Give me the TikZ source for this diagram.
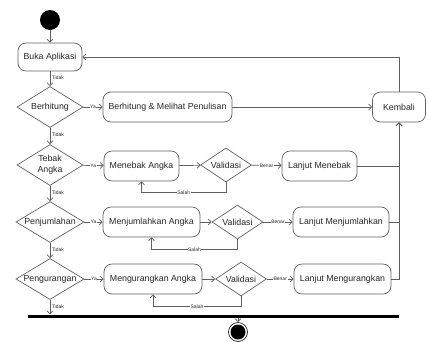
\documentclass[tikz,border=0pt]{standalone}
\usepackage{fontspec}
\setmainfont{Liberation Sans}
\usetikzlibrary{arrows.meta, shapes.geometric}

\definecolor{garis}{RGB}{95,95,95}

\begin{document}
\begin{tikzpicture}[x=1pt, y=-1pt,
    every node/.style={font=\fontsize{8.8}{11}\selectfont, text=black!85},
    aktivitas/.style={rectangle, draw=garis, line width=0.7pt, rounded corners=8pt, minimum height=30pt, inner sep=2pt},
    keputusan/.style={diamond, draw=garis, line width=0.7pt, aspect=1.6, inner sep=0pt, minimum width=66pt, minimum height=41pt},
    validasi/.style={keputusan, minimum width=51pt, minimum height=34pt},
    alur/.style={draw=garis, line width=0.7pt, -{Straight Barb[length=3pt,width=6pt]}},
    ket/.style={font=\fontsize{5}{5}\selectfont, fill=white, inner sep=0.6pt},
    tidak/.style={font=\fontsize{5}{5}\selectfont, anchor=west, inner sep=1.5pt, pos=0.45}]
    \useasboundingbox (0,0) rectangle (428,341);

    % Nodes
    \node[circle, fill=black, minimum size=20pt, inner sep=0pt] (mulai) at (50,20) {};
    \node[aktivitas, minimum width=64pt, minimum height=28pt] (buka) at (50,57) {Buka Aplikasi};
    \node[keputusan] (hitung) at (50,107) {Berhitung};
    \node[aktivitas, minimum width=129pt] (tulis) at (167.5,107) {Berhitung \& Melihat Penulisan};
    \node[aktivitas, minimum width=53pt] (kembali) at (399,107) {Kembali};

    \node[keputusan, align=center] (tebak) at (50,165) {Tebak\\Angka};
    \node[aktivitas, minimum width=75pt] (menebak) at (141.5,166) {Menebak Angka};
    \node[validasi] (valid1) at (226,165) {Validasi};
    \node[aktivitas, minimum width=75pt] (lanjut1) at (319.5,166) {Lanjut Menebak};

    \node[keputusan, minimum width=68pt] (jumlah) at (50,222) {Penjumlahan};
    \node[aktivitas, minimum width=97pt] (menjumlah) at (151.5,222) {Menjumlahkan Angka};
    \node[validasi] (valid2) at (237.5,222) {Validasi};
    \node[aktivitas, minimum width=96pt] (lanjut2) at (341,222) {Lanjut Menjumlahkan};

    \node[keputusan, minimum width=68pt] (kurang) at (50,279) {Pengurangan};
    \node[aktivitas, minimum width=98pt] (mengurang) at (153,279) {Mengurangkan Angka};
    \node[validasi] (valid3) at (241,279) {Validasi};
    \node[aktivitas, minimum width=97pt] (lanjut3) at (342.5,279) {Lanjut Mengurangkan};

    \node[rectangle, fill=black, minimum width=371pt, minimum height=3pt, inner sep=0pt] (bar) at (213.5,316) {};
    \node[circle, draw=black, line width=0.6pt, minimum size=19pt, inner sep=0pt] (selesai) at (238,332) {};
    \node[circle, fill=black, minimum size=15pt, inner sep=0pt] (selesaiisi) at (selesai.center) {};

    % Edges
    \draw[alur] (mulai) -- (buka);
    \draw[alur] (buka) -- node[tidak] {Tidak} (hitung);
    \draw[alur] (hitung) -- node[tidak] {Tidak} (tebak);
    \draw[alur] (tebak) -- node[tidak] {Tidak} (jumlah);
    \draw[alur] (jumlah) -- node[tidak] {Tidak} (kurang);
    \draw[alur] (kurang.south) -- node[tidak] {Tidak} (kurang.south |- bar.north);
    \draw[alur] (bar.south -| selesai.north) -- (selesai.north);

    \draw[alur] (hitung) -- node[ket] {Ya} (tulis);
    \draw[alur] (tebak) -- node[ket] {Ya} (menebak);
    \draw[alur] (jumlah) -- node[ket] {Ya} (menjumlah);
    \draw[alur] (kurang) -- node[ket] {Ya} (mengurang);

    \draw[alur] (menebak) -- (valid1);
    \draw[alur] (menjumlah) -- (valid2);
    \draw[alur] (mengurang) -- (valid3);

    \draw[alur] (valid1) -- node[ket] {Benar} (lanjut1);
    \draw[alur] (valid2) -- node[ket] {Benar} (lanjut2);
    \draw[alur] (valid3) -- node[ket] {Benar} (lanjut3);

    \draw[alur] (valid1.south) -- ++(0,10) -| node[ket, pos=0.25] {Salah} (menebak.south);
    \draw[alur] (valid2.south) -- ++(0,10) -| node[ket, pos=0.25] {Salah} (menjumlah.south);
    \draw[alur] (valid3.south) -- ++(0,10) -| node[ket, pos=0.25] {Salah} (mengurang.south);

    \draw[alur] (tulis) -- (kembali);
    \draw[alur] (lanjut1.east) -| (kembali.south);
    \draw[alur] (lanjut2.east) -| (kembali.south);
    \draw[alur] (lanjut3.east) -| (kembali.south);
    \draw[alur] (kembali.north) |- (buka.east);
\end{tikzpicture}
\end{document}
